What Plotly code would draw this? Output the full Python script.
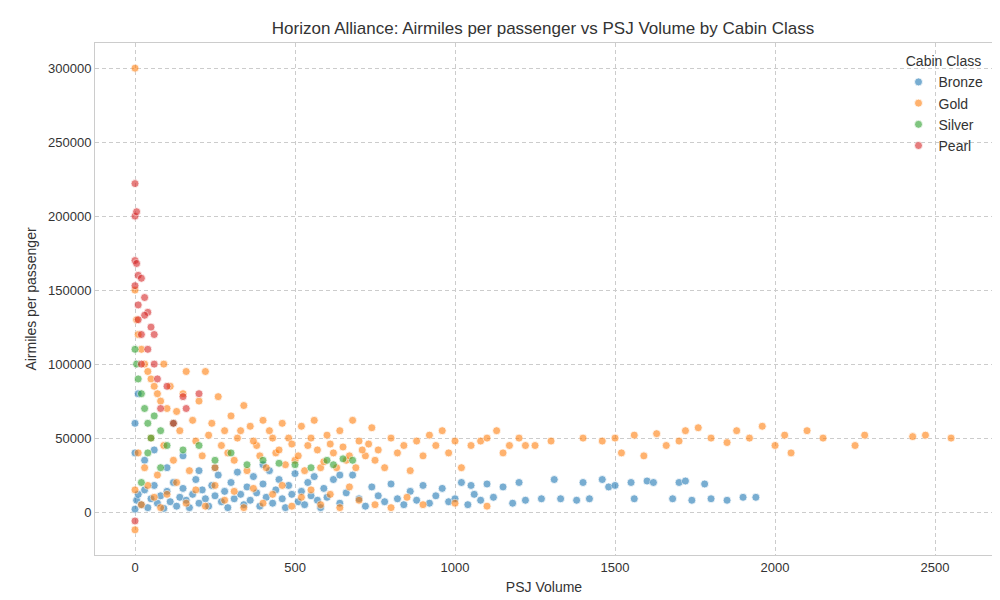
import plotly.graph_objects as go

# (psj volume, airmiles per passenger)
bronze_x = [0,5,10,20,30,40,50,60,70,80,90,100,110,120,130,140,150,160,170,180,190,200,210,220,230,240,250,260,270,280,290,300,310,320,330,340,350,360,370,380,390,400,410,420,430,440,450,460,470,480,490,500,510,520,530,540,550,560,570,580,590,600,620,640,660,680,700,720,740,760,780,800,820,840,860,880,900,920,940,960,980,1000,1020,1040,1060,1080,1100,1120,1150,1180,1200,1220,1270,1310,1330,1380,1400,1420,1460,1480,1500,1550,1560,1600,1620,1680,1700,1720,1740,1780,1800,1850,1900,1940,0,30,60,100,150,0,10,200,250,400,640,1050]
bronze_y = [2000,8000,12000,5000,15000,3000,9000,18000,6000,11000,2500,14000,7000,20000,4000,10000,16000,8000,3000,12000,22000,6000,15000,9000,4000,18000,11000,25000,7000,14000,3000,20000,9000,27000,12000,5000,17000,8000,24000,13000,4000,19000,10000,28000,6000,15000,22000,9000,3000,18000,12000,26000,7000,14000,5000,20000,11000,24000,8000,3000,16000,10000,22000,6000,13000,25000,9000,4000,17000,11000,7000,19000,9000,5000,14000,8000,18000,6000,11000,16000,7000,9000,20000,5000,12000,8000,19000,10000,17000,6000,20000,8000,9000,22000,9000,8000,20000,9000,22000,17000,18000,20000,9000,21000,20000,9000,20000,21000,8000,19000,9000,8000,10000,10000,40000,35000,42000,30000,38000,60000,80000,28000,30000,32000,25000,18000]

gold_x = [0,0,0,5,10,20,30,40,50,60,70,80,90,100,110,130,150,160,200,220,180,240,260,280,300,320,340,360,380,400,420,440,460,480,500,520,540,560,580,600,620,640,660,680,700,720,740,760,780,800,820,840,860,880,900,920,940,960,980,1000,1020,1050,1080,1100,1130,1150,1170,1200,1220,1250,1300,1400,1460,1500,1520,1560,1590,1630,1660,1700,1720,1760,1800,1850,1880,1920,1960,2000,2030,2050,2100,2150,2250,2280,2430,2470,2550,
          10,30,50,70,90,120,140,170,190,210,230,250,270,290,310,330,350,370,390,410,430,450,470,490,510,530,550,570,590,610,630,650,670,690,710,730,750,
          0,20,40,60,80,100,130,160,190,220,250,280,310,340,370,400,430,460,490,520,550,580,610,640,670,700,750,800,850,900,1000,1100]
gold_y = [300000,-12000,150000,130000,120000,110000,100000,95000,90000,85000,80000,75000,100000,70000,85000,68000,80000,95000,75000,95000,62000,60000,78000,55000,65000,50000,72000,58000,45000,62000,55000,40000,60000,50000,35000,58000,45000,62000,30000,52000,40000,55000,35000,62000,48000,38000,57000,42000,30000,50000,40000,45000,28000,48000,38000,52000,45000,55000,40000,48000,30000,45000,48000,50000,55000,40000,45000,50000,45000,45000,48000,50000,48000,50000,40000,52000,38000,53000,45000,48000,55000,57000,50000,47000,55000,50000,58000,45000,52000,40000,55000,50000,45000,52000,51000,52000,50000,
          40000,30000,50000,25000,45000,35000,55000,28000,48000,38000,52000,30000,45000,40000,35000,55000,28000,48000,38000,30000,50000,42000,32000,46000,38000,28000,50000,42000,34000,46000,30000,44000,38000,30000,42000,46000,35000,
          15000,5000,18000,10000,3000,12000,20000,6000,15000,4000,18000,8000,14000,3000,16000,6000,12000,18000,4000,10000,15000,5000,12000,3000,17000,8000,5000,3000,10000,5000,6000,4000]

silver_x = [0,5,10,20,30,40,50,60,80,100,120,150,200,250,300,350,400,450,500,550,600,620,650,680,40,80,20]
silver_y = [110000,100000,90000,80000,70000,60000,50000,65000,55000,45000,60000,42000,45000,35000,40000,32000,35000,33000,32000,30000,35000,32000,36000,35000,40000,30000,20000]

pearl_x = [0,0,5,0,5,10,20,30,40,50,30,0,10,20,40,60,70,100,150,200,0,10,20,60,80,120,160]
pearl_y = [222000,200000,203000,170000,168000,160000,158000,145000,135000,125000,133000,153000,140000,120000,110000,100000,90000,85000,78000,80000,-6000,130000,100000,120000,70000,60000,70000]

classes = ["Bronze", "Gold", "Silver", "Pearl"]
colors = ["#1f77b4", "#ff7f0e", "#2ca02c", "#d62728"]
xs = [bronze_x, gold_x, silver_x, pearl_x]
ys = [bronze_y, gold_y, silver_y, pearl_y]

fig = go.Figure()
for name, c, x, y in zip(classes, colors, xs, ys):
    fig.add_trace(go.Scatter(x=x, y=y, mode="markers", name=name,
                             marker=dict(color=c, size=8, opacity=0.6, line=dict(color="white", width=0.8))))

axis = dict(showgrid=True, gridcolor="#cccccc", griddash="4px,3px", zeroline=False, automargin=False,
            showline=True, linecolor="#cccccc", mirror=True, ticks="", tickformat="d",
            tickfont=dict(size=13, color="#333333"), title_font=dict(size=14, color="#333333"))
fig.update_layout(
    width=1000, height=600,
    title=dict(text="Horizon Alliance: Airmiles per passenger vs PSJ Volume by Cabin Class",
               x=0.535, xanchor="center", y=0.977, yanchor="top", font=dict(size=17, color="#333333")),
    font=dict(family="Liberation Sans, Arial, sans-serif"),
    paper_bgcolor="white", plot_bgcolor="white",
    margin=dict(l=87, r=15, t=35, b=53),
    xaxis=dict(axis, title=dict(text="PSJ Volume", standoff=8), range=[-125, 2681], dtick=500),
    yaxis=dict(axis, title=dict(text="Airmiles per passenger", standoff=8), range=[-29000, 317000], dtick=50000),
    legend=dict(title=dict(text="Cabin Class", side="top center", font=dict(size=14)), x=0.995, y=0.99,
                xanchor="right", yanchor="top", font=dict(size=14, color="#333333"),
                bgcolor="rgba(255,255,255,0)"),
)
fig.write_html("out.html")
